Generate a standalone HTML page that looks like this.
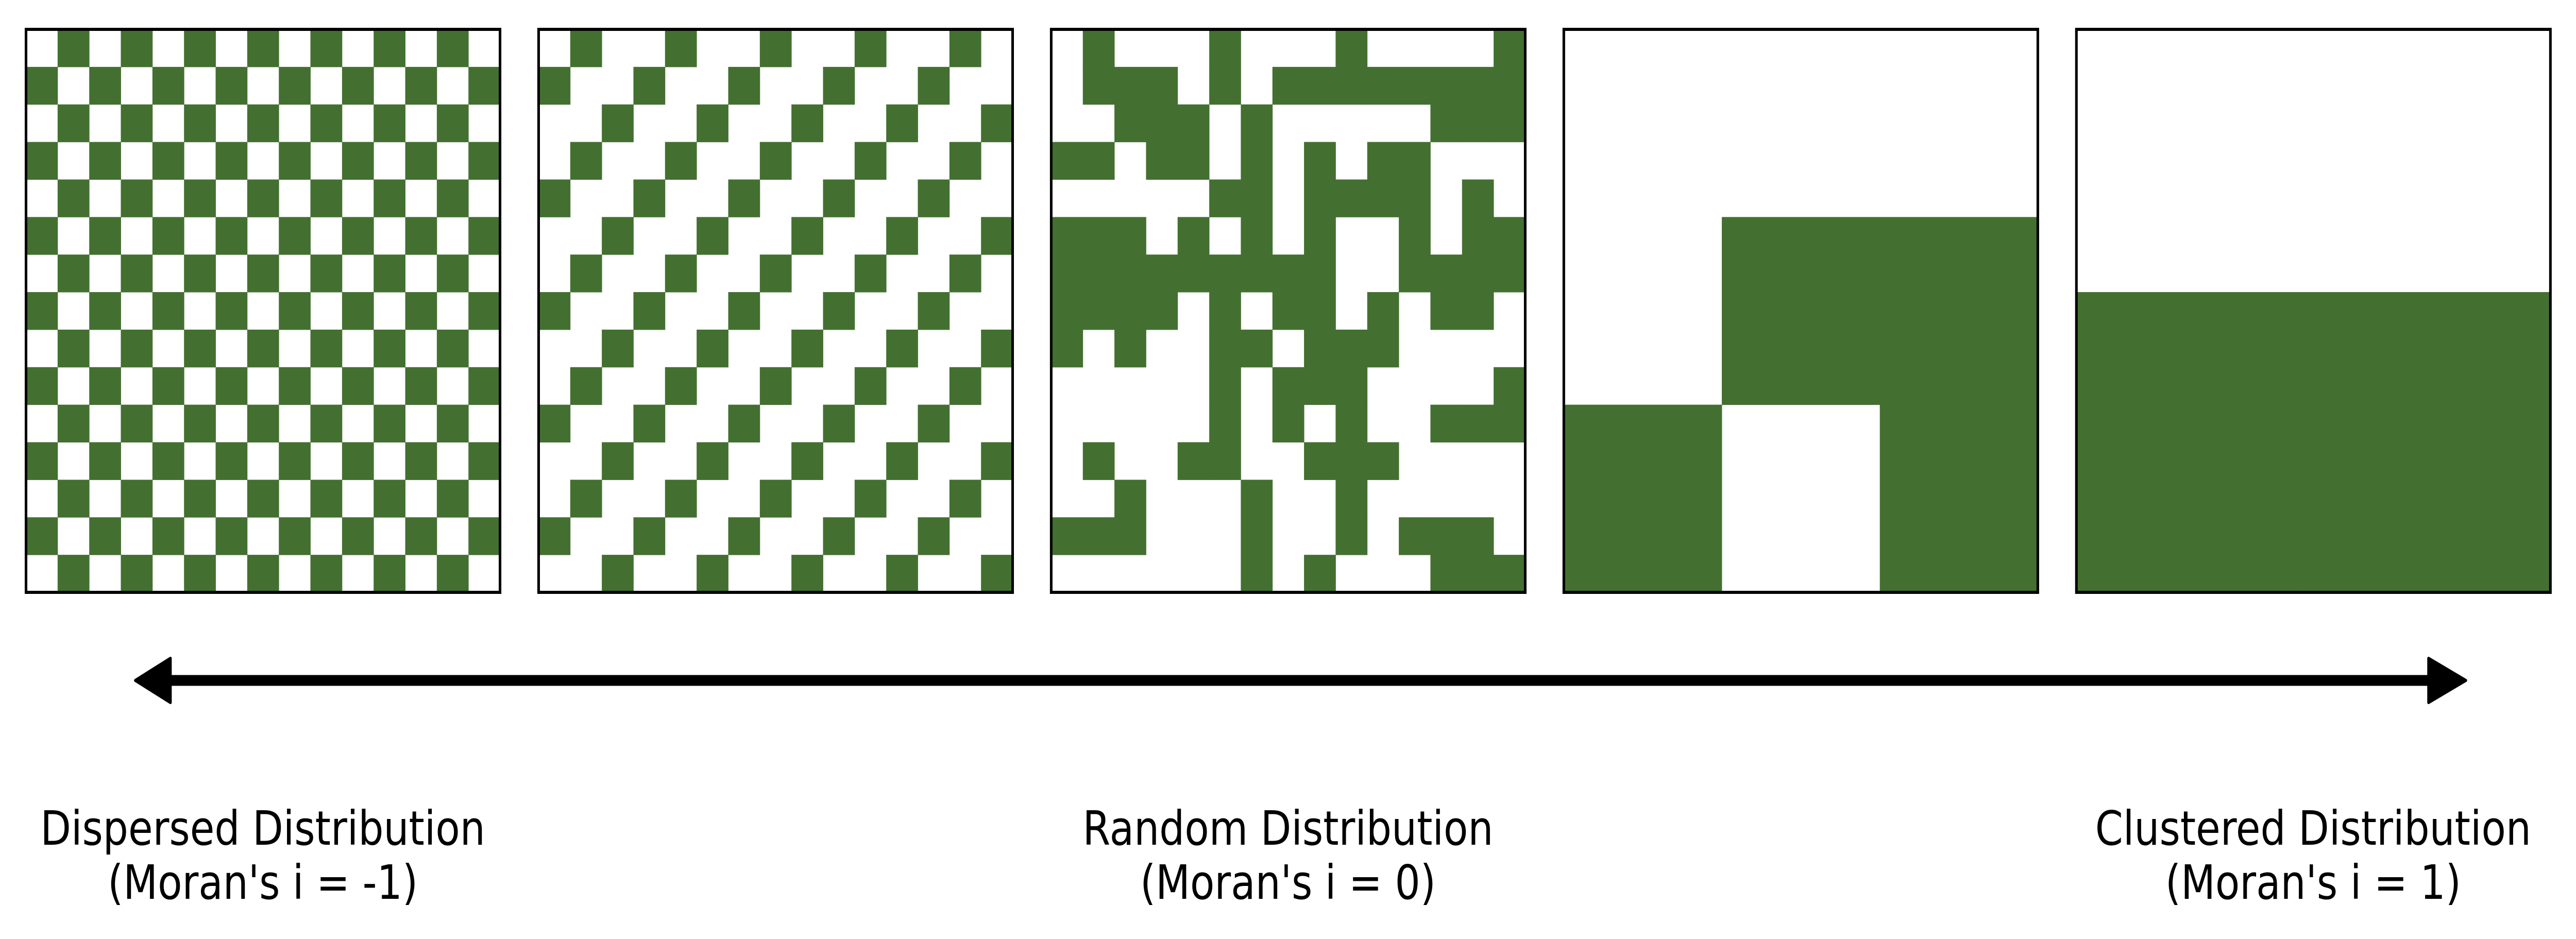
<!DOCTYPE html>
<html><head><meta charset="utf-8"><style>
html,body{margin:0;padding:0;background:#fff;overflow:hidden;width:100%;height:100%;}
svg{display:block;width:100vw;height:100vh;}
text{font-family:"DejaVu Sans","Liberation Sans",sans-serif;font-size:92px;fill:#000;}
</style></head><body>
<svg id="fig" viewBox="0 0 5940 1823" preserveAspectRatio="none" xmlns="http://www.w3.org/2000/svg">
<g id="panels"></g>
<g>
<line x1="380" y1="1321" x2="5610" y2="1321" stroke="#000" stroke-width="21"/>
<path d="M312,1321 L393,1278 L393,1364 Z" fill="#000" stroke="#000" stroke-width="6" stroke-linejoin="round"/>
<path d="M5686,1321 L5600,1278 L5600,1364 Z" fill="#000" stroke="#000" stroke-width="6" stroke-linejoin="round"/>
</g>
<g>
<text x="606" y="1640" text-anchor="middle">Dispersed Distribution</text>
<text x="606" y="1745" text-anchor="middle">(Moran's i = -1)</text>
</g>
<g>
<text x="2970" y="1640" text-anchor="middle">Random Distribution</text>
<text x="2970" y="1745" text-anchor="middle">(Moran's i = 0)</text>
</g>
<g>
<text x="5334" y="1640" text-anchor="middle">Clustered Distribution</text>
<text x="5334" y="1745" text-anchor="middle">(Moran's i = 1)</text>
</g>
</svg>
<script>
const randomRows = [
"010001000100001",
"011101011111111",
"001110100000111",
"110110101011000",
"000001101111010",
"111010101001011",
"111111111001111",
"111101011010110",
"101001101110000",
"000001011100001",
"000001010100111",
"010011001110000",
"001000100100000",
"111000100101110",
"000000101000111"
];
const clusteredBlocks = ["000","011","101"];
const panelNames = ["dispersed-panel","diagonal-panel","random-panel","block-panel","clustered-panel"];

const NS="http://www.w3.org/2000/svg";
const G=document.getElementById('panels');
const PX=[60,1242,2424,3606,4788], PY=57, PW=1093;
const GREEN="#437030";
function grid(fn,n){const g=[];for(let r=0;r<n;r++){const row=[];for(let c=0;c<n;c++)row.push(fn(r,c));g.push(row);}return g;}
const grids=[
 grid((r,c)=>(r+c)%2===1,15),
 grid((r,c)=>(r+c)%3===1,15),
 randomRows.map(s=>s.split('').map(ch=>ch==='1')),
 clusteredBlocks.map(s=>s.split('').map(ch=>ch==='1')),
 grid((r,c)=>r>=7,15)
];
grids.forEach((g,i)=>{
 const grp=document.createElementNS(NS,'g');
 
 
 const n=g.length, cs=PW/n;
 g.forEach((row,r)=>row.forEach((v,c)=>{
  if(!v)return;
  const rc=document.createElementNS(NS,'rect');
  
  
  rc.setAttribute('x',PX[i]+c*cs);rc.setAttribute('y',PY+r*cs);
  rc.setAttribute('width',cs+0.5);rc.setAttribute('height',cs+0.5);
  rc.setAttribute('fill',GREEN);
  grp.appendChild(rc);
 }));
 const b=document.createElementNS(NS,'rect');
 
 
 b.setAttribute('x',PX[i]);b.setAttribute('y',PY);b.setAttribute('width',PW);b.setAttribute('height',PW);
 b.setAttribute('fill','none');b.setAttribute('stroke','#000');b.setAttribute('stroke-width','6');
 grp.appendChild(b);
 G.appendChild(grp);
});
</script>
</body></html>
